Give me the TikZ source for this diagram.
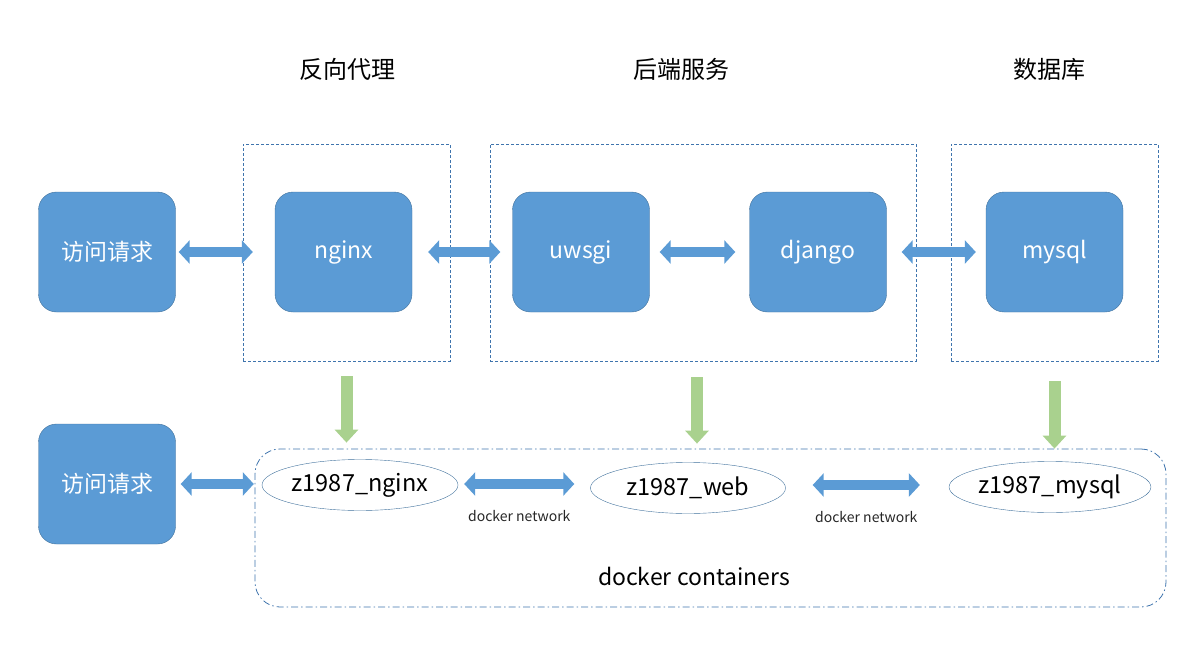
\documentclass[tikz,border=0pt]{standalone}
\usepackage{fontspec}
\setmainfont{Noto Sans CJK SC}
\usetikzlibrary{arrows.meta,shapes.geometric}
\definecolor{boxblue}{HTML}{5B9BD5}
\definecolor{edgeblue}{HTML}{41719C}
\definecolor{dashblue}{HTML}{3F74AD}
\definecolor{arrgreen}{HTML}{A9D18E}

\begin{document}
\begin{tikzpicture}[x=1pt,y=-1pt,
		block/.style={draw=edgeblue, fill=boxblue, rounded corners=18pt,
			minimum width=137pt, minimum height=120pt, text=white,
			font=\fontsize{23}{27}\selectfont},
		groupbox/.style={draw=dashblue, densely dashed, minimum height=217pt},
		title/.style={font=\fontsize{24}{28}\selectfont},
		dblarrow/.style={boxblue, line width=10pt,
			{Triangle[width=23pt,length=11pt]}-{Triangle[width=23pt,length=11pt]}},
		downarrow/.style={arrgreen, line width=12pt,
			-{Triangle[width=23pt,length=13pt]}},
		box/.style={ellipse, draw=edgeblue, minimum width=196pt, minimum height=51pt,
			inner sep=0pt, font=\fontsize{23.5}{27}\selectfont},
		netlabel/.style={text=black!85, font=\fontsize{14}{16}\selectfont}]

	\useasboundingbox (0,0) rectangle (1203,653);

	% titles
	\node[title] (t1) at (347,69) {反向代理};
	\node[title] (t2) at (681,69) {后端服务};
	\node[title] (t3) at (1049,69) {数据库};

	% dashed groups
	\node[groupbox, minimum width=207pt] (proxy) at (346.5,252.5) {};
	\node[groupbox, minimum width=426pt] (backend) at (703,252.5) {};
	\node[groupbox, minimum width=207pt] (db) at (1054.5,252.5) {};

	% top row
	\node[block] (req) at (107,252) {访问请求};
	\node[block] (nginx) at (343.5,252) {nginx};
	\node[block] (uwsgi) at (581,252) {uwsgi};
	\node[block] (django) at (818,252) {django};
	\node[block] (mysql) at (1054.5,252) {mysql};

	\draw[dblarrow] ([xshift=3pt]req.east) -- ([xshift=-22pt]nginx.west);
	\draw[dblarrow] ([xshift=16pt]nginx.east) -- ([xshift=-12pt]uwsgi.west);
	\draw[dblarrow] ([xshift=10pt]uwsgi.east) -- ([xshift=-14pt]django.west);
	\draw[dblarrow] ([xshift=15pt]django.east) -- ([xshift=-10pt]mysql.west);

	% docker side
	\node[draw=dashblue, line width=0.8pt, dash pattern=on 7pt off 3pt on 1.5pt off 3pt,
		rounded corners=25pt, minimum width=911pt, minimum height=158pt]
		(docker) at (710.5,528) {};
	\node[font=\fontsize{23}{27}\selectfont] (dlabel) at (694,576) {docker containers};

	\node[block] (req2) at (107,484) {访问请求};
	\node[box] (cngx) at (360,485) {z1987\_nginx};
	\node[box, minimum width=195pt] (cweb) at (688,488) {z1987\_web};
	\node[box, minimum width=197pt] (cdb) at (1050,487) {z1987\_mysql};

	\draw[dblarrow] ([xshift=5pt]req2.east) -- ([xshift=-8pt]cngx.west |- req2.east);
	\draw[dblarrow] ([xshift=6pt,yshift=1pt]cngx.east) -- ([xshift=-16pt,yshift=1pt]cweb.west |- cngx.east)
		node[netlabel, midway, yshift=-32pt] (net1) {docker network};
	\draw[dblarrow] ([xshift=27pt,yshift=3pt]cweb.east) -- ([xshift=-29pt,yshift=3pt]cdb.west |- cweb.east)
		node[netlabel, midway, yshift=-32pt] (net2) {docker network};

	% green arrows
	\draw[downarrow] ([yshift=-15pt]proxy.south) -- ([yshift=6pt]proxy.south |- docker.north);
	\draw[downarrow] ([xshift=-6pt,yshift=-16pt]backend.south) -- ([xshift=-6pt,yshift=5pt]backend.south |- docker.north);
	\draw[downarrow] ([yshift=-20pt]db.south) -- ([yshift=0pt]db.south |- docker.north);

\end{tikzpicture}
\end{document}
